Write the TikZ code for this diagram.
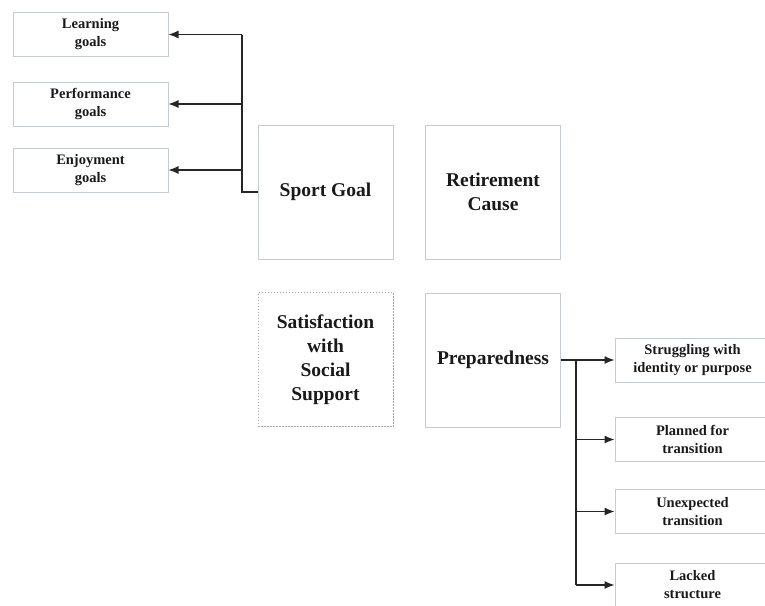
\documentclass[tikz,border=0pt]{standalone}
\usepackage{fontspec}
\setmainfont{Liberation Serif}
\usetikzlibrary{arrows.meta}
\definecolor{boxline}{rgb}{0.78,0.80,0.82}
\definecolor{shade}{rgb}{0.80,0.86,0.93}
\definecolor{txt}{rgb}{0.10,0.10,0.10}
\tikzset{
  smallbox/.style={draw=boxline, line width=1pt, minimum width=155pt, minimum height=44pt, inner sep=0pt, align=center, text=txt, font=\fontsize{14.5}{18}\selectfont\bfseries},
  bigbox/.style={draw=boxline, line width=1pt, minimum width=135pt, minimum height=134pt, inner sep=0pt, align=center, text=txt, font=\fontsize{19.5}{24}\selectfont\bfseries},
  dotbox/.style={bigbox, draw=black!35, dash pattern=on 1.5pt off 1.5pt},
  conn/.style={draw=black!85, line width=1.2pt},
  arr/.style={conn, -{Latex[length=10pt,width=8pt]}}
}
\begin{document}
\begin{tikzpicture}[x=1pt,y=-1pt]
\useasboundingbox (0,0) rectangle (765,605);
\clip (0,0) rectangle (765,605);
% left boxes
\node[smallbox] (lg) at (90.5,34.5) {Learning\\goals};
\node[smallbox] (pg) at (90.5,104) {Performance\\goals};
\node[smallbox] (eg) at (90.5,170) {Enjoyment\\goals};
% central boxes
\node[bigbox] (sg) at (325.5,192) {Sport Goal};
\node[bigbox] (rc) at (493,192) {Retirement\\Cause};
\node[dotbox] (ss) at (325.5,359.5) {Satisfaction\\with\\Social\\Support};
\node[bigbox] (pr) at (493,360) {Preparedness};
% right boxes
\node[smallbox] (s1) at (692.5,360) {Struggling with\\identity or purpose};
\node[smallbox] (s2) at (692.5,439.5) {Planned for\\transition};
\node[smallbox] (s3) at (692.5,511.5) {Unexpected\\transition};
\node[smallbox] (s4) at (692.5,585) {Lacked\\structure};
% left connectors
\coordinate (jl) at (242,192);
\draw[conn] (sg.west) -- (jl) -- (jl |- lg.east);
\draw[arr] (jl |- lg.east) -- (lg.east);
\draw[arr] (jl |- pg.east) -- (pg.east);
\draw[arr] (jl |- eg.east) -- (eg.east);
% right connectors
\coordinate (jr) at (576,360);
\draw[conn] (pr.east) -- (jr) -- (jr |- s4.west);
\draw[arr] (jr) -- (s1.west);
\draw[arr] (jr |- s2.west) -- (s2.west);
\draw[arr] (jr |- s3.west) -- (s3.west);
\draw[arr] (jr |- s4.west) -- (s4.west);
\end{tikzpicture}
\end{document}
